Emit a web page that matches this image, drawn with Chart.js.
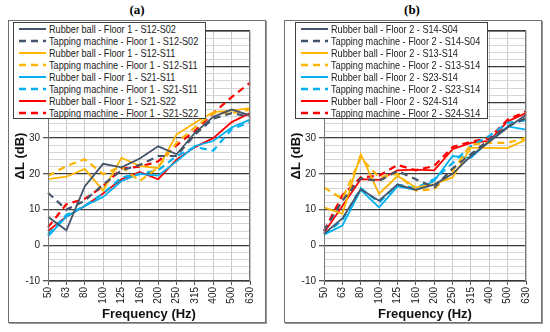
<!DOCTYPE html>
<html>
<head>
<meta charset="utf-8">
<script src="https://cdn.jsdelivr.net/npm/chart.js@4.4.1/dist/chart.umd.min.js"></script>
<style>
  body { margin: 0; background: #fff; width: 550px; height: 332px; position: relative; overflow: hidden; font-family: "Liberation Sans", Arial, sans-serif; }
  .title { position: absolute; top: 2px; width: 40px; text-align: center; font: bold 13px "Liberation Serif", "Times New Roman", serif; }
  .frame { position: absolute; top: 20px; width: 256px; height: 301px; border: 1px solid #6f6f6f; box-shadow: 1px 1px 0 #9a9a9a; }
  .frame canvas { position: absolute; left: 1px; top: 1px; }
  .legend { position: absolute; top: 22px; background: #fff; border: 1px solid #404040; box-sizing: border-box; height: 97px; padding-top: 0; }
  .legend .row { height: 12px; display: flex; align-items: center; font-size: 10.5px; color: #222; white-space: nowrap; }
  .legend svg { margin: 0 3px 0 5px; flex: none; }
  .legend span { display: inline-block; transform: scaleX(0.87); transform-origin: left center; }
</style>
</head>
<body>
<div class="title" style="left:117px">(a)</div>
<div class="title" style="left:392px">(b)</div>
<div class="frame" style="left:8px"><canvas id="chartA" width="254" height="299"></canvas></div>
<div class="frame" style="left:284px"><canvas id="chartB" width="254" height="299"></canvas></div>
<div class="legend" id="legendA" style="left:13px;width:193px"></div>
<div class="legend" id="legendB" style="left:295px;width:193px"></div>
<script>
// frequency bands (Hz)
const freqs = ['50', '63', '80', '100', '125', '160', '200', '250', '315', '400', '500', '630'];
const yMin = -10;
const yMax = 60;

// (a) Floor 1
const labelsA = [
    'Rubber ball - Floor 1 - S12-S02', 'Tapping machine - Floor 1 - S12-S02',
    'Rubber ball - Floor 1 - S12-S11', 'Tapping machine - Floor 1 - S12-S11',
    'Rubber ball - Floor 1 - S21-S11', 'Tapping machine - Floor 1 - S21-S11',
    'Rubber ball - Floor 1 - S21-S22', 'Tapping machine - Floor 1 - S21-S22'
];
const rbA_S12S02 = [8, 4.2, 16.5, 22.8, 21.8, 24.3, 27.7, 25.5, 31.5, 36, 38, 36.4];
const tmA_S12S02 = [14.7, 10, 12.5, 17, 21, 22.5, 25, 25, 31, 35.5, 37, 36];
const rbA_S12S11 = [18.5, 19.2, 21.4, 15.3, 24.5, 22.2, 21.6, 31, 34.3, 37.3, 37.7, 38.4];
const tmA_S12S11 = [19.4, 22.2, 24.1, 19.9, 22, 18, 21.8, 28.7, 33, 37, 37, 38];
const rbA_S21S11 = [2.5, 8, 11, 13.5, 18, 20, 19.5, 23.5, 27.8, 29.2, 33, 35.2];
const tmA_S21S11 = [3, 8.5, 11, 14.5, 19, 20, 21, 25, 27.5, 26.5, 32.5, 34.5];
const rbA_S21S22 = [4, 8, 11, 14.5, 18.5, 20.5, 18.5, 24, 27.5, 30, 34.5, 37];
const tmA_S21S22 = [5, 11.5, 13, 16.5, 21.5, 22, 23.5, 28, 32, 37, 41.5, 45.5];

// (b) Floor 2
const labelsB = [
    'Rubber ball - Floor 2 - S14-S04', 'Tapping machine - Floor 2 - S14-S04',
    'Rubber ball - Floor 2 - S13-S14', 'Tapping machine - Floor 2 - S13-S14',
    'Rubber ball - Floor 2 - S23-S14', 'Tapping machine - Floor 2 - S23-S14',
    'Rubber ball - Floor 2 - S24-S14', 'Tapping machine - Floor 2 - S24-S14'
];
const rbB_S14S04 = [3.2, 7.5, 15.7, 12.5, 17, 15.5, 17, 20, 25, 29, 33, 36.5];
const tmB_S14S04 = [4, 12.5, 18.8, 18, 20.8, 18.5, 16.2, 21.5, 25.5, 29.6, 33.3, 35.6];
const rbB_S13S14 = [10.6, 8.8, 25.5, 14.4, 19.4, 16.2, 17.1, 19, 27.3, 27.3, 27.2, 29.6];
const tmB_S13S14 = [16.2, 13, 24.5, 19, 20, 15.3, 15.7, 20.8, 28.2, 28.7, 28.7, 30.1];
const rbB_S23S14 = [3, 5.5, 15.5, 10.6, 16.5, 15.5, 18, 25, 24.5, 29.2, 33.3, 32.4];
const tmB_S23S14 = [3, 7, 16, 12, 17, 16, 18.5, 23, 27.8, 30.6, 34.3, 35];
const rbB_S24S14 = [3.5, 11, 18.5, 18.3, 21, 21.2, 21, 26.9, 28.7, 29.2, 34.7, 37];
const tmB_S24S14 = [4, 14, 19, 19.5, 22.5, 21, 22.2, 27.5, 29, 30, 35.2, 37.5];

const colors = ['#44546a', '#44546a', '#ffb400', '#ffb400', '#00b0f0', '#00b0f0', '#ff0000', '#ff0000'];
const dashed = [false, true, false, true, false, true, false, true];

function buildDatasets(labels, series) {
    return series.map((data, i) => ({
        label: labels[i],
        data: data,
        borderColor: colors[i],
        backgroundColor: colors[i],
        borderWidth: dashed[i] ? 2.2 : 1.8,
        borderDash: dashed[i] ? [7, 5] : [],
        pointRadius: 0,
        tension: 0,
        fill: false
    }));
}

function buildLegend(id, datasets) {
    const box = document.getElementById(id);
    datasets.forEach(ds => {
        const row = document.createElement('div');
        row.className = 'row';
        const dash = ds.borderDash.length ? 'stroke-dasharray="7,5"' : '';
        row.innerHTML = `<svg width="27" height="6"><line x1="0" y1="3" x2="27" y2="3" stroke="${ds.borderColor}" stroke-width="${dash ? 2.5 : 2}" ${dash}/></svg><span>${ds.label}</span>`;
        box.appendChild(row);
    });
}

// frame around plot area
const plotBorder = {
    id: 'plotBorder',
    afterDraw(chart) {
        const a = chart.chartArea, ctx = chart.ctx;
        ctx.save();
        ctx.strokeStyle = '#7a7a7a';
        ctx.lineWidth = 1;
        ctx.strokeRect(a.left + 0.5, a.top + 0.5, a.right - a.left - 1, a.bottom - a.top);
        ctx.restore();
    }
};

function makeChart(canvasId, datasets) {
    return new Chart(document.getElementById(canvasId), {
        type: 'line',
        data: { labels: freqs, datasets: datasets },
        options: {
            responsive: false,
            animation: false,
            layout: { padding: { top: 7, right: 5, left: 0, bottom: 0 } },
            plugins: { legend: { display: false }, tooltip: { enabled: false } },
            scales: {
                x: {
                    offset: false,
                    afterFit: s => { s.height = 40; },
                    grid: { color: '#c8c8c8', lineWidth: 1, tickLength: 4, tickColor: '#555' },
                    border: { color: '#555' },
                    ticks: { minRotation: 90, maxRotation: 90, autoSkip: false, padding: 2, color: '#222', font: { family: 'Liberation Sans', size: 10 } },
                    title: { display: true, text: 'Frequency (Hz)', color: '#111', padding: 0, font: { family: 'Liberation Sans', size: 13, weight: 'bold', lineHeight: 1 } }
                },
                y: {
                    min: yMin,
                    max: yMax,
                    afterFit: s => { s.width = 38; },
                    grid: {
                        color: c => (c.tick.value % 10 === 0 ? '#3a3a3a' : '#d6d6d6'),
                        lineWidth: c => (c.tick.value % 10 === 0 ? 1.3 : 1),
                        tickLength: 5,
                        tickColor: c => (c.tick.value % 10 === 0 ? '#555' : 'rgba(0,0,0,0)')
                    },
                    border: { color: '#555' },
                    ticks: {
                        stepSize: 2,
                        autoSkip: false,
                        padding: 3,
                        color: '#222',
                        font: { family: 'Liberation Sans', size: 10 },
                        callback: v => (v % 10 === 0 ? v : '')
                    },
                    title: { display: true, text: 'ΔL (dB)', color: '#111', padding: { top: 3, bottom: 0 }, font: { family: 'Liberation Sans', size: 13, weight: 'bold' } }
                }
            }
        },
        plugins: [plotBorder]
    });
}

const dsA = buildDatasets(labelsA, [rbA_S12S02, tmA_S12S02, rbA_S12S11, tmA_S12S11, rbA_S21S11, tmA_S21S11, rbA_S21S22, tmA_S21S22]);
const dsB = buildDatasets(labelsB, [rbB_S14S04, tmB_S14S04, rbB_S13S14, tmB_S13S14, rbB_S23S14, tmB_S23S14, rbB_S24S14, tmB_S24S14]);
makeChart('chartA', dsA);
makeChart('chartB', dsB);
buildLegend('legendA', dsA);
buildLegend('legendB', dsB);
</script>
</body>
</html>
